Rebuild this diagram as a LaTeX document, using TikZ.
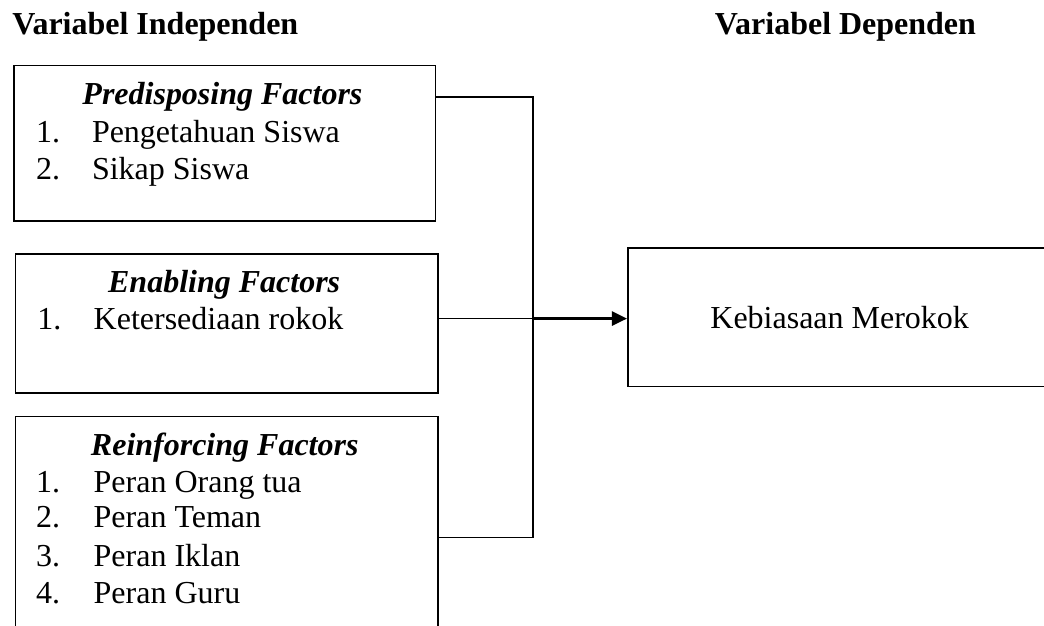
\documentclass[tikz,border=0pt]{standalone}
\usepackage{fontspec}
\setmainfont{Liberation Serif}
\usetikzlibrary{arrows.meta}

\tikzset{
	factorbox/.style={draw=black, line width=0.8pt, rectangle, inner sep=0pt, anchor=north west},
	txt/.style={black, inner sep=0pt, anchor=base west, font=\fontsize{16}{18.5}\selectfont},
	head/.style={black, inner sep=0pt, anchor=base, font=\fontsize{16}{18.5}\selectfont\bfseries\itshape},
	title/.style={black, inner sep=0pt, anchor=base west, font=\fontsize{16}{18.5}\selectfont\bfseries},
	link/.style={draw=black, line width=0.8pt},
	toarrow/.style={draw=black, line width=1.3pt, -{Triangle[length=7.5pt,width=7pt]}}
}

\begin{document}
\begin{tikzpicture}
		\useasboundingbox (0,0) rectangle (18.35,11.00);
		% titles
		\node[title] (tind) at (0.21,10.39) {Variabel Independen};
		\node[title] (tdep) at (12.56,10.39) {Variabel Dependen};
		% boxes
		\node[factorbox, minimum width=7.41cm, minimum height=2.73cm] (pre) at (0.23,9.86) {};
		\node[factorbox, minimum width=7.42cm, minimum height=2.44cm] (ena) at (0.26,6.55) {};
		\node[factorbox, minimum width=7.42cm, minimum height=4.30cm] (rei) at (0.26,3.69) {};
		\node[factorbox, minimum width=7.45cm, minimum height=2.44cm, font=\fontsize{16}{18.5}\selectfont] (goal) at (11.02,6.66) {Kebiasaan Merokok};
		% predisposing
		\node[head] (hpre) at (3.91,9.16) {Predisposing Factors};
		\node[txt] (npre1) at (0.63,8.49) {1.};
		\node[txt] (ipre1) at (1.61,8.49) {Pengetahuan Siswa};
		\node[txt] (npre2) at (0.63,7.84) {2.};
		\node[txt] (ipre2) at (1.61,7.84) {Sikap Siswa};
		% enabling
		\node[head] (hena) at (3.94,5.85) {Enabling Factors};
		\node[txt] (nena1) at (0.65,5.20) {1.};
		\node[txt] (iena1) at (1.64,5.20) {Ketersediaan rokok};
		% reinforcing
		\node[head] (hrei) at (3.95,3.00) {Reinforcing Factors};
		\node[txt] (nrei1) at (0.63,2.35) {1.};
		\node[txt] (irei1) at (1.64,2.35) {Peran Orang tua};
		\node[txt] (nrei2) at (0.63,1.72) {2.};
		\node[txt] (irei2) at (1.64,1.72) {Peran Teman};
		\node[txt] (nrei3) at (0.63,1.04) {3.};
		\node[txt] (irei3) at (1.64,1.04) {Peran Iklan};
		\node[txt] (nrei4) at (0.63,0.40) {4.};
		\node[txt] (irei4) at (1.64,0.40) {Peran Guru};
		% connectors
		\coordinate (jtop) at (9.37,9.30);
		\coordinate (jmid) at (9.37,5.40);
		\coordinate (jbot) at (9.37,1.55);
		\draw[link] (pre.east |- jtop) -- (jtop) -- (jbot) -- (rei.east |- jbot);
		\draw[link] (ena.east |- jmid) -- (jmid);
		\draw[toarrow] (jmid) -- (goal.west |- jmid);
	\end{tikzpicture}
\end{document}
